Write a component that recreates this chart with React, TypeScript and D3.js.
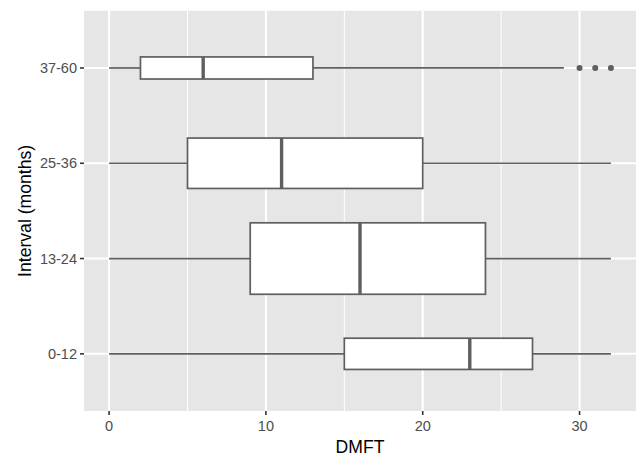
import React from 'react';
import * as d3 from 'd3';

// interval groups, bottom to top
const categories = ['0-12', '13-24', '25-36', '37-60'];
const whiskerLow = [0, 0, 0, 0];
const q1 = [15, 9, 5, 2];
const median = [23, 16, 11, 6];
const q3 = [27, 24, 20, 13];
const whiskerHigh = [32, 32, 32, 29];
const outliers = [[], [], [], [30, 31, 32]];
// estimated group sizes (box height ~ sqrt(n), varwidth)
const sampleSize = [38, 199, 99, 19];
const xTicks = [0, 10, 20, 30];
const xMinor = [5, 15, 25];

const W = 636;
const H = 458;
const panel = { left: 84, right: 636, top: 10.8, bottom: 411 };

export default function App() {
  const x = d3.scaleLinear().domain([-1.6, 33.6]).range([panel.left, panel.right]);
  const y = d3.scalePoint<string>().domain(categories).range([panel.bottom, panel.top]).padding(0.6);
  const step = y.step();
  const maxN = d3.max(sampleSize) as number;
  const lineCol = '#5f5f5f';

  return (
    <svg width={W} height={H} style={{ position: 'absolute', left: 0, top: 0, fontFamily: 'Liberation Sans, Arial, sans-serif' }}>
      <rect x={panel.left} y={panel.top} width={panel.right - panel.left} height={panel.bottom - panel.top} fill="#e6e6e6" />
      {xMinor.map(t => (
        <line key={'m' + t} x1={x(t)} x2={x(t)} y1={panel.top} y2={panel.bottom} stroke="#fff" strokeWidth={1} />
      ))}
      {xTicks.map(t => (
        <line key={'g' + t} x1={x(t)} x2={x(t)} y1={panel.top} y2={panel.bottom} stroke="#fff" strokeWidth={2} />
      ))}
      {categories.map(c => (
        <line key={'h' + c} x1={panel.left} x2={panel.right} y1={y(c)} y2={y(c)} stroke="#fff" strokeWidth={2} />
      ))}

      {categories.map((c, i) => {
        const cy = y(c) as number;
        const bh = 0.75 * step * Math.sqrt(sampleSize[i] / maxN);
        return (
          <g key={c}>
            <line x1={x(whiskerLow[i])} x2={x(q1[i])} y1={cy} y2={cy} stroke={lineCol} strokeWidth={1.7} />
            <line x1={x(q3[i])} x2={x(whiskerHigh[i])} y1={cy} y2={cy} stroke={lineCol} strokeWidth={1.7} />
            <rect x={x(q1[i])} y={cy - bh / 2} width={x(q3[i]) - x(q1[i])} height={bh} fill="#fff" stroke={lineCol} strokeWidth={1.7} />
            <line x1={x(median[i])} x2={x(median[i])} y1={cy - bh / 2} y2={cy + bh / 2} stroke={lineCol} strokeWidth={3.4} />
            {outliers[i].map(o => (
              <circle key={o} cx={x(o)} cy={cy} r={3} fill={lineCol} />
            ))}
          </g>
        );
      })}

      {/* x axis */}
      {xTicks.map(t => (
        <g key={'xt' + t}>
          <line x1={x(t)} x2={x(t)} y1={panel.bottom} y2={panel.bottom + 4} stroke="#333" strokeWidth={1.6} />
          <text x={x(t)} y={431} textAnchor="middle" fontSize={14.5} fill="#4d4d4d">{t}</text>
        </g>
      ))}
      <text x={(panel.left + panel.right) / 2} y={453} textAnchor="middle" fontSize={17.6} fill="#000">DMFT</text>

      {/* y axis */}
      {categories.map(c => (
        <g key={'yt' + c}>
          <line x1={panel.left - 4} x2={panel.left} y1={y(c)} y2={y(c)} stroke="#333" strokeWidth={1.6} />
          <text x={panel.left - 7} y={(y(c) as number) + 5} textAnchor="end" fontSize={14.5} fill="#4d4d4d">{c}</text>
        </g>
      ))}
      <text transform={`translate(31,${(panel.top + panel.bottom) / 2}) rotate(-90)`} textAnchor="middle" fontSize={17.6} fill="#000">Interval (months)</text>
    </svg>
  );
}
